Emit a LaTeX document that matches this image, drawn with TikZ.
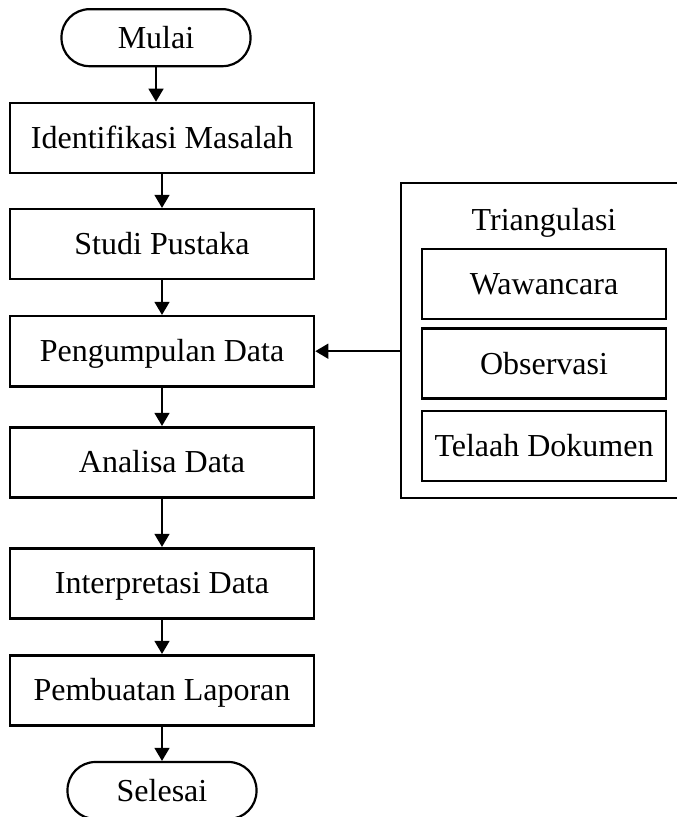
\documentclass[tikz,border=0pt]{standalone}
\usepackage{fontspec}
\setmainfont{Liberation Serif}
\usetikzlibrary{positioning,arrows.meta}

\begin{document}
\begin{tikzpicture} [x=0.5pt, y=-0.5pt, node distance=17.2pt,
            txt/.style={font=\fontsize{16}{19}\selectfont, text height=11pt, text depth=0.4pt},
            terminal/.style={txt, rectangle, draw, line width=1.1pt, rounded corners=14pt, minimum width=94.5pt, minimum height=28.5pt},
            proc/.style={txt, rectangle, draw, line width=1.3pt, minimum width=152pt, minimum height=35pt},
            sub/.style={txt, rectangle, draw, line width=1.3pt, minimum width=122pt, minimum height=35pt},
            grup/.style={rectangle, draw, line width=1pt, minimum width=143pt, minimum height=157.5pt},
            arr/.style={-{Triangle[length=6.5pt,width=7.5pt]}, line width=0.7pt},]
        \useasboundingbox (0,0) rectangle (676,817);
        % alur utama
        \node[proc](idm) at (162,138){Identifikasi Masalah};
        \node[terminal](mulai)[above=of idm, xshift=-3pt]{Mulai};
        \node[proc](studi)[below=16.8pt of idm]{Studi Pustaka};
        \node[proc](kumpul)[below=of studi]{Pengumpulan Data};
        \node[proc](analisa)[below=19.2pt of kumpul]{Analisa Data};
        \node[proc](interp)[below=24.2pt of analisa]{Interpretasi Data};
        \node[proc](lapor)[below=of interp]{Pembuatan Laporan};
        \node[terminal](selesai)[below=of lapor]{Selesai};
        % triangulasi
        \node[grup](tri) at (544,340.5){};
        \node[txt](judul) at (544,220){Triangulasi};
        \node[sub](waw) at (544,284){Wawancara};
        \node[sub](obs)[below=3.5pt of waw]{Observasi};
        \node[sub](tel)[below=4.8pt of obs]{Telaah Dokumen};
        \draw[arr] (mulai.south) -- (mulai.south |- idm.north);
        \draw[arr] (idm.south) -- (studi.north);
        \draw[arr] (studi.south) -- (kumpul.north);
        \draw[arr] (kumpul.south) -- (analisa.north);
        \draw[arr] (analisa.south) -- (interp.north);
        \draw[arr] (interp.south) -- (lapor.north);
        \draw[arr] (lapor.south) -- (selesai.north);
        \draw[arr] (tri.west |- kumpul.east) -- (kumpul.east);
    \end{tikzpicture}
\end{document}
